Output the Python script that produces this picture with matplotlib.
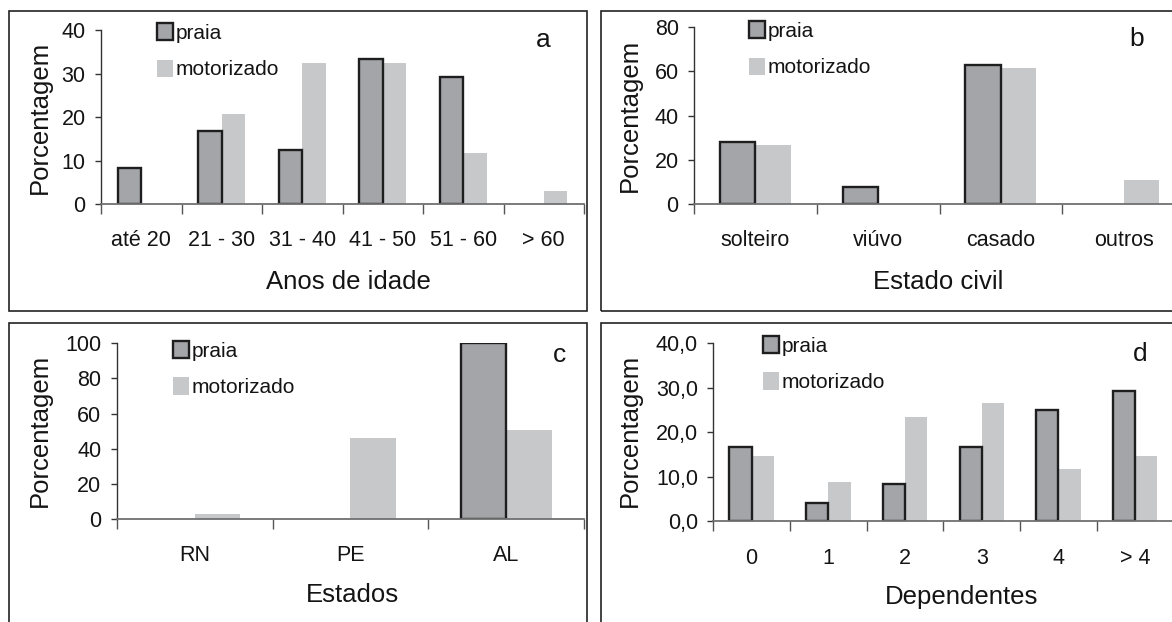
import matplotlib.pyplot as plt
from matplotlib.patches import Patch, Rectangle
from matplotlib.ticker import FuncFormatter

plt.rcParams['font.family'] = ['Liberation Sans', 'DejaVu Sans']

W, H = 1172, 622

# Faixa etaria
idade_cats = ['até 20', '21 - 30', '31 - 40', '41 - 50', '51 - 60', '> 60']
idade_praia = [8.3, 16.7, 12.5, 33.3, 29.2, 0]
idade_motor = [0, 20.6, 32.4, 32.4, 11.8, 2.9]

# Estado civil
civil_cats = ['solteiro', 'viúvo', 'casado', 'outros']
civil_praia = [28.1, 7.7, 62.8, 0]
civil_motor = [26.4, 0, 61.6, 10.6]

# Estado de origem
estados_cats = ['RN', 'PE', 'AL']
estados_praia = [0, 0, 100]
estados_motor = [2.9, 46.0, 50.5]

# Numero de dependentes
dep_cats = ['0', '1', '2', '3', '4', '> 4']
dep_praia = [16.7, 4.2, 8.3, 16.7, 25.0, 29.2]
dep_motor = [14.7, 8.8, 23.5, 26.5, 11.8, 14.7]

C_PRAIA = '#a4a5a9'
C_MOTOR = '#c7c8ca'
EDGE = '#1e1e1e'
TXT = '#141414'

fig = plt.figure(figsize=(W / 100, H / 100), dpi=100)


def px_axes(x0, y0, x1, y1):
    return fig.add_axes([x0 / W, 1 - y1 / H, (x1 - x0) / W, (y1 - y0) / H])


def fx(x):
    return x / W


def fy(y):
    return 1 - y / H


def panel(box, axbox, cats, praia, motor, ymax, ystep, xlabel, xlab_pos,
          ylab_pos, letter, letter_pos, leg_pos, fmt='{:.0f}'):
    # moldura do painel
    x0, y0, x1, y1 = box
    fig.add_artist(Rectangle((fx(x0), fy(y1)), (x1 - x0) / W, (y1 - y0) / H,
                             transform=fig.transFigure, fill=False,
                             edgecolor='#222222', linewidth=1.2))
    ax = px_axes(*axbox)
    n = len(cats)
    w = 0.29
    centers = [i + 0.5 for i in range(n)]
    ax.bar(centers, praia, width=-w, align='edge', color=C_PRAIA,
           edgecolor=EDGE, linewidth=[1.7 if v > 0 else 0 for v in praia],
           zorder=3)
    ax.bar(centers, motor, width=w, align='edge', color=C_MOTOR,
           linewidth=0, zorder=2)
    ax.set_xlim(0, n)
    ax.set_ylim(0, ymax)
    ax.set_yticks([ystep * k for k in range(int(ymax / ystep) + 1)])
    ax.yaxis.set_major_formatter(FuncFormatter(
        lambda v, p: fmt.format(v).replace('.', ',')))
    ax.set_xticks(range(n + 1))
    ax.set_xticklabels([])
    ax.set_xticks(centers, minor=True)
    ax.set_xticklabels(cats, minor=True)
    ax.tick_params(axis='x', which='major', direction='out', length=7,
                   width=1, color='#555555')
    ax.tick_params(axis='x', which='minor', length=0, pad=19, labelsize=15.5,
                   labelcolor=TXT)
    ax.tick_params(axis='y', direction='out', length=4, width=1,
                   color='#333333', pad=7, labelsize=15.5, labelcolor=TXT)
    for s in ('top', 'right'):
        ax.spines[s].set_visible(False)
    ax.spines['left'].set_color('#333333')
    ax.spines['left'].set_linewidth(1)
    ax.spines['bottom'].set_color('#707070')
    ax.spines['bottom'].set_linewidth(1.3)
    ax.spines['bottom'].set_zorder(4)
    ax.patch.set_visible(False)

    ax.set_xlabel(xlabel, fontsize=18.5, color=TXT)
    ax.xaxis.set_label_coords(fx(xlab_pos[0]), fy(xlab_pos[1]),
                              transform=fig.transFigure)
    ax.xaxis.label.set_va('center')
    ax.set_ylabel('Porcentagem', fontsize=18.5, color=TXT)
    ax.yaxis.set_label_coords(fx(ylab_pos[0]), fy(ylab_pos[1]),
                              transform=fig.transFigure)
    ax.yaxis.label.set_va('center')

    fig.text(fx(letter_pos[0]), fy(letter_pos[1]), letter, fontsize=19,
             ha='center', va='center', color=TXT)

    handles = [Patch(facecolor=C_PRAIA, edgecolor=EDGE, linewidth=1.7,
                     label='praia'),
               Patch(facecolor=C_MOTOR, linewidth=0, label='motorizado')]
    ax.legend(handles=handles, loc='upper left',
              bbox_to_anchor=(fx(leg_pos[0]), fy(leg_pos[1])),
              bbox_transform=fig.transFigure, frameon=False, fontsize=15,
              handlelength=0.75, handleheight=0.9, handletextpad=0.15,
              labelspacing=0.8, borderpad=0, borderaxespad=0,
              labelcolor=TXT)
    return ax


panel((9, 11, 587, 311), (101, 30, 584, 204), idade_cats, idade_praia,
      idade_motor, 40, 10, 'Anos de idade', (348, 282), (40, 117),
      'a', (543, 40), (157, 23))
panel((601, 11, 1180, 311), (694, 27.3, 1185, 203.7), civil_cats,
      civil_praia, civil_motor, 80, 20, 'Estado civil', (938, 282),
      (630, 115), 'b', (1137, 39), (749, 21))
panel((9, 323, 587, 640), (116.7, 343.3, 584.3, 519), estados_cats,
      estados_praia, estados_motor, 100, 20, 'Estados', (352, 595),
      (40, 430), 'c', (560, 355), (173, 341))
panel((601, 323, 1180, 640), (713.3, 343.3, 1173.5, 521.3), dep_cats,
      dep_praia, dep_motor, 40, 10, 'Dependentes', (962, 597),
      (630, 430), 'd', (1140, 354), (763, 336), fmt='{:.1f}')

fig.savefig('out.png', dpi=100)
